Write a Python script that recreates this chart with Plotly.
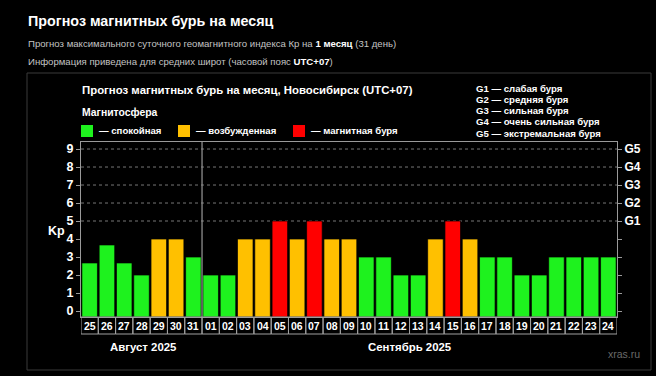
import plotly.graph_objects as go

# ---------------- data ----------------
DAYS = ["25", "26", "27", "28", "29", "30", "31",
        "01", "02", "03", "04", "05", "06", "07", "08", "09", "10", "11", "12",
        "13", "14", "15", "16", "17", "18", "19", "20", "21", "22", "23", "24"]
KP = [2.67, 3.67, 2.67, 2, 4, 4, 3,
      2, 2, 4, 4, 5, 4, 5, 4, 4, 3, 3, 2,
      2, 4, 5, 4, 3, 3, 2, 2, 3, 3, 3, 3]
KP_TICKS = [0, 1, 2, 3, 4, 5, 6, 7, 8, 9]
G_LEVELS = [5, 6, 7, 8, 9]
G_LABELS = ["G1", "G2", "G3", "G4", "G5"]
G_LEGEND = ["G1 — слабая буря", "G2 — средняя буря", "G3 — сильная буря",
            "G4 — очень сильная буря", "G5 — экстремальная буря"]
STATE_NAMES = ["— спокойная", "— возбужденная", "— магнитная буря"]
STATE_COLORS = ["#1ef21e", "#ffc000", "#ff0000"]
MONTHS = ["Август 2025", "Сентябрь 2025"]
FIRST_SEPT = "01"

W, H = 656, 376
FONT = "Liberation Sans, Arial, sans-serif"
Y_BOTTOM, Y_TOP = -0.333, 9.39
POS = list(range(len(DAYS)))


def px(x):
    return x / W


def py(y):
    return 1 - y / H


def color_for(v):
    if v >= 5:
        return STATE_COLORS[2]
    if v >= 4:
        return STATE_COLORS[1]
    return STATE_COLORS[0]


fig = go.Figure()
fig.add_trace(go.Bar(
    x=POS, y=[v - Y_BOTTOM for v in KP], base=Y_BOTTOM,
    marker=dict(color=[color_for(v) for v in KP],
                line=dict(color="rgba(0,0,0,0.7)", width=1)),
    customdata=list(zip(DAYS, KP)),
    hovertemplate="%{customdata[0]}: Kp %{customdata[1]}<extra></extra>",
    showlegend=False, yaxis="y",
))
# invisible trace to activate the right axis
fig.add_trace(go.Scatter(x=[POS[0]], y=[0], yaxis="y2", mode="markers",
                         marker=dict(opacity=0), showlegend=False, hoverinfo="skip"))

fig.update_layout(
    width=W, height=H,
    margin=dict(l=0, r=0, t=0, b=0),
    paper_bgcolor="#000", plot_bgcolor="#000",
    font=dict(family=FONT, color="#fff"),
    bargap=0.1,
    xaxis=dict(domain=[px(81), px(617)], range=[-0.5, len(DAYS) - 0.5],
               showticklabels=False, ticks="", showgrid=False,
               showline=True, mirror=True, linecolor="#9a9a9a", linewidth=1,
               zeroline=False, fixedrange=True),
    yaxis=dict(domain=[py(317), py(142)], range=[Y_BOTTOM, Y_TOP],
               tickvals=KP_TICKS, ticks="outside", ticklen=4, tickcolor="#9a9a9a",
               tickfont=dict(family=FONT, size=12.5, color="#fff", weight="bold"),
               showgrid=False, zeroline=False, showline=True,
               linecolor="#9a9a9a", linewidth=1),
    yaxis2=dict(overlaying="y", side="right", range=[Y_BOTTOM, Y_TOP],
                anchor="x",
                tickvals=KP_TICKS,
                ticktext=["" if k not in G_LEVELS else G_LABELS[G_LEVELS.index(k)] for k in KP_TICKS],
                ticks="outside", ticklen=4, tickcolor="#9a9a9a",
                tickfont=dict(family=FONT, size=12, color="#fff", weight="bold"),
                showgrid=False, zeroline=False, showline=True,
                linecolor="#9a9a9a", linewidth=1),
)

shapes = []
# panel border
shapes.append(dict(type="rect", xref="paper", yref="paper",
                   x0=px(27), x1=px(651), y0=py(370), y1=py(73),
                   line=dict(color="#3a3a3a", width=1), layer="below"))
# dotted grid lines for storm levels
for g in G_LEVELS:
    shapes.append(dict(type="line", xref="paper", yref="y",
                       x0=px(81), x1=px(617), y0=g, y1=g,
                       line=dict(color="#777", width=1, dash="dot"), layer="below"))
# month divider
idx = DAYS.index(FIRST_SEPT)
shapes.append(dict(type="line", xref="x", yref="paper",
                   x0=idx - 0.5, x1=idx - 0.5, y0=py(317), y1=py(142),
                   line=dict(color="#9a9a9a", width=1.2)))
# legend squares
sq_x = [81, 178, 293]
txt_x = [97, 194, 309]
for sx, c in zip(sq_x, STATE_COLORS):
    shapes.append(dict(type="rect", xref="paper", yref="paper",
                       x0=px(sx), x1=px(sx + 12), y0=py(137), y1=py(125),
                       fillcolor=c, line=dict(width=0)))
# day label boxes
for p in POS:
    shapes.append(dict(type="rect", xref="x", yref="paper",
                       x0=p - 0.5, x1=p + 0.5, y0=py(334), y1=py(317),
                       line=dict(color="#a0a0a0", width=1), fillcolor="rgba(0,0,0,0)"))
fig.update_layout(shapes=shapes)

ann = []
ann.append(dict(text="<b>Прогноз магнитных бурь на месяц</b>", xref="paper", yref="paper",
                x=px(26), y=py(21), xanchor="left", yanchor="middle", showarrow=False,
                font=dict(size=14.3, color="#fff", family=FONT)))
ann.append(dict(text="Прогноз максимального суточного геомагнитного индекса Кр на "
                     "<b><span style='color:#fff'>1 месяц</span></b> (31 день)",
                xref="paper", yref="paper", x=px(26), y=py(43), xanchor="left", yanchor="middle",
                showarrow=False, font=dict(size=9.6, color="#c4c4c4", family=FONT)))
ann.append(dict(text="Информация приведена для средних широт (часовой пояс "
                     "<b><span style='color:#fff'>UTC+07</span></b>)",
                xref="paper", yref="paper", x=px(26), y=py(61), xanchor="left", yanchor="middle",
                showarrow=False, font=dict(size=9.6, color="#c4c4c4", family=FONT)))
ann.append(dict(text="<b>Прогноз магнитных бурь на месяц, Новосибирск (UTC+07)</b>",
                xref="paper", yref="paper", x=px(80), y=py(90), xanchor="left", yanchor="middle",
                showarrow=False, font=dict(size=11.4, color="#fff", family=FONT)))
ann.append(dict(text="<b>Магнитосфера</b>", xref="paper", yref="paper", x=px(80), y=py(113),
                xanchor="left", yanchor="middle", showarrow=False,
                font=dict(size=10.4, color="#fff", family=FONT)))
for tx, name in zip(txt_x, STATE_NAMES):
    ann.append(dict(text="<b>" + name + "</b>", xref="paper", yref="paper", x=px(tx), y=py(131),
                    xanchor="left", yanchor="middle", showarrow=False,
                    font=dict(size=9.6, color="#fff", family=FONT)))
for i, line in enumerate(G_LEGEND):
    ann.append(dict(text="<b>" + line + "</b>", xref="paper", yref="paper",
                    x=px(474), y=py(88 + i * 11.3), xanchor="left", yanchor="middle",
                    showarrow=False, font=dict(size=9.6, color="#fff", family=FONT)))
ann.append(dict(text="<b>Kp</b>", xref="paper", yref="paper", x=px(57), y=py(231),
                xanchor="center", yanchor="middle", showarrow=False,
                font=dict(size=12.5, color="#fff", family=FONT)))
# day labels
for p, d in zip(POS, DAYS):
    ann.append(dict(text="<b>" + d + "</b>", xref="x", yref="paper", x=p, y=py(325.5),
                    xanchor="center", yanchor="middle", showarrow=False,
                    font=dict(size=10.5, color="#fff", family=FONT)))
# month labels
ann.append(dict(text="<b>" + MONTHS[0] + "</b>", xref="paper", yref="paper", x=px(143), y=py(347),
                xanchor="center", yanchor="middle", showarrow=False,
                font=dict(size=11.4, color="#fff", family=FONT)))
ann.append(dict(text="<b>" + MONTHS[1] + "</b>", xref="paper", yref="paper", x=px(410), y=py(347),
                xanchor="center", yanchor="middle", showarrow=False,
                font=dict(size=11.4, color="#fff", family=FONT)))
ann.append(dict(text="xras.ru", xref="paper", yref="paper", x=px(624), y=py(354),
                xanchor="center", yanchor="middle", showarrow=False,
                font=dict(size=10.5, color="#6a6a6a", family=FONT)))
fig.update_layout(annotations=ann)

fig.write_html("out.html", config={"displayModeBar": False},
               post_script="document.body.style.margin='0';document.body.style.background='#000';")
